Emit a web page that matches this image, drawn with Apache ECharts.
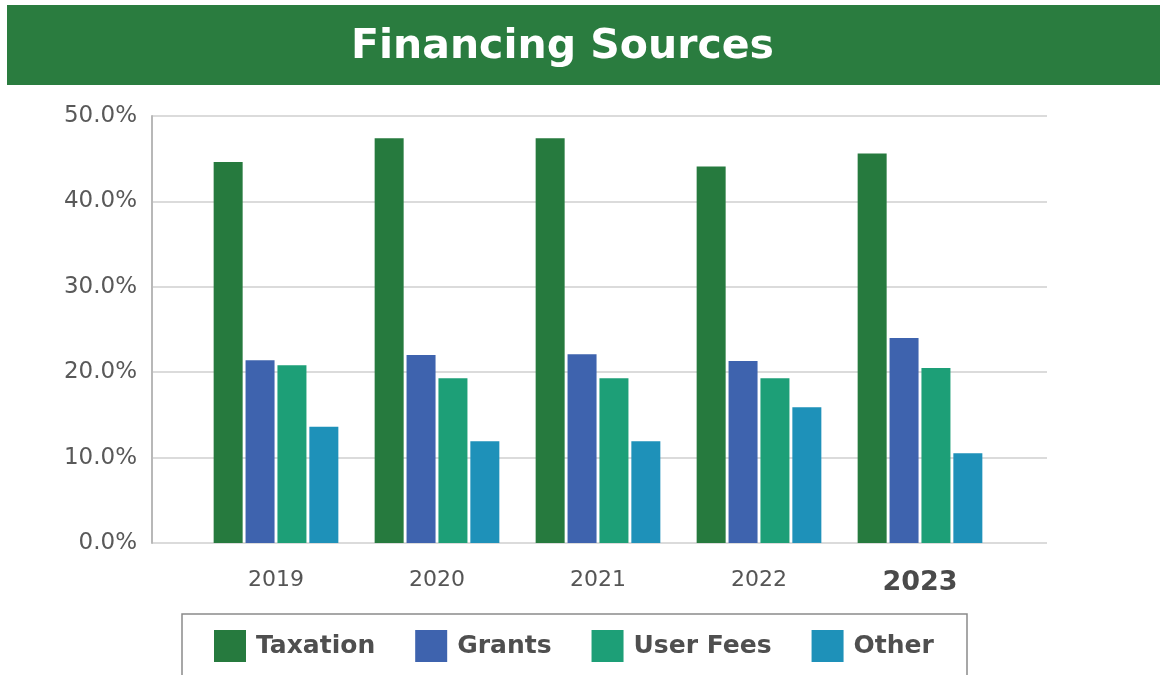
<!DOCTYPE html>
<html>
<head>
<meta charset="utf-8">
<script src="https://cdn.jsdelivr.net/npm/echarts@6/dist/echarts.min.js"></script>
<style>
  html, body { margin: 0; padding: 0; background: #fff; }
  #chart { width: 1169px; height: 675px; }
</style>
</head>
<body>
<div id="chart"></div>
<script>
// data
var years = ['2019', '2020', '2021', '2022', '2023'];
var taxation = [44.6, 47.4, 47.4, 44.1, 45.6];
var grants = [21.4, 22.0, 22.1, 21.3, 24.0];
var userFees = [20.8, 19.3, 19.3, 19.3, 20.5];
var other = [13.6, 11.9, 11.9, 15.9, 10.5];
var yTicks = [0, 10, 20, 30, 40, 50];

var colors = ['#267a3e', '#3e63ae', '#1d9f77', '#1e91b9'];
var font = 'DejaVu Sans';

var chart = echarts.init(document.getElementById('chart'));

function bar(name, data, color) {
  return {
    name: name,
    type: 'bar',
    xAxisIndex: 1,
    yAxisIndex: 1,
    data: data,
    barWidth: 29,
    barGap: '10%',
    itemStyle: { color: color }
  };
}

var option = {
  animation: false,
  title: {
    text: 'Financing Sources',
    left: 346,
    top: 22,
    textStyle: { color: '#fff', fontFamily: font, fontWeight: 'bold', fontSize: 41 }
  },
  graphic: [
    // green banner behind the title
    { type: 'rect', z: -1, shape: { x: 7, y: 5, width: 1153, height: 80 }, style: { fill: '#2a7c3f' } },
    // legend frame (runs off the bottom)
    { type: 'rect', shape: { x: 182, y: 614, width: 785, height: 90 }, style: { fill: 'none', stroke: '#8a8a8a', lineWidth: 1.5 } }
  ],
  legend: {
    data: ['Taxation', 'Grants', 'User Fees', 'Other'],
    left: 214,
    top: 630,
    padding: 0,
    icon: 'rect',
    itemWidth: 32,
    itemHeight: 32,
    itemGap: 40,
    textStyle: { color: '#4f4f4f', fontFamily: font, fontWeight: 'bold', fontSize: 25, padding: [10, 0, 0, 5] }
  },
  grid: [
    { left: 152, right: 122, top: 116, height: 427 },
    { left: 195.5, right: 168.5, top: 116, height: 427 }
  ],
  xAxis: [
    { type: 'value', gridIndex: 0, min: 0, max: 1, show: false },
    {
      type: 'category',
      gridIndex: 1,
      data: years,
      axisLine: { show: false },
      axisTick: { show: false },
      axisLabel: {
        margin: 26,
        color: '#555',
        fontFamily: font,
        fontSize: 22,
        formatter: function (v) { return v === '2023' ? '{b|' + v + '}' : v; },
        rich: { b: { fontFamily: font, fontWeight: 'bold', fontSize: 27, color: '#4a4a4a' } }
      }
    }
  ],
  yAxis: [
    {
      type: 'value',
      gridIndex: 0,
      min: yTicks[0],
      max: yTicks[yTicks.length - 1],
      interval: 10,
      axisLine: { show: true, lineStyle: { color: '#b8b8b8', width: 2 } },
      axisTick: { show: false },
      splitLine: { lineStyle: { color: '#cfcfcf', width: 1.5 } },
      axisLabel: {
        margin: 15,
        color: '#595959',
        fontFamily: font,
        fontSize: 23,
        formatter: function (v) { return v.toFixed(1) + '%'; }
      }
    },
    { type: 'value', gridIndex: 1, min: 0, max: 50, interval: 10, show: false }
  ],
  series: [
    bar('Taxation', taxation, colors[0]),
    bar('Grants', grants, colors[1]),
    bar('User Fees', userFees, colors[2]),
    bar('Other', other, colors[3])
  ]
};

chart.setOption(option);
</script>
</body>
</html>
